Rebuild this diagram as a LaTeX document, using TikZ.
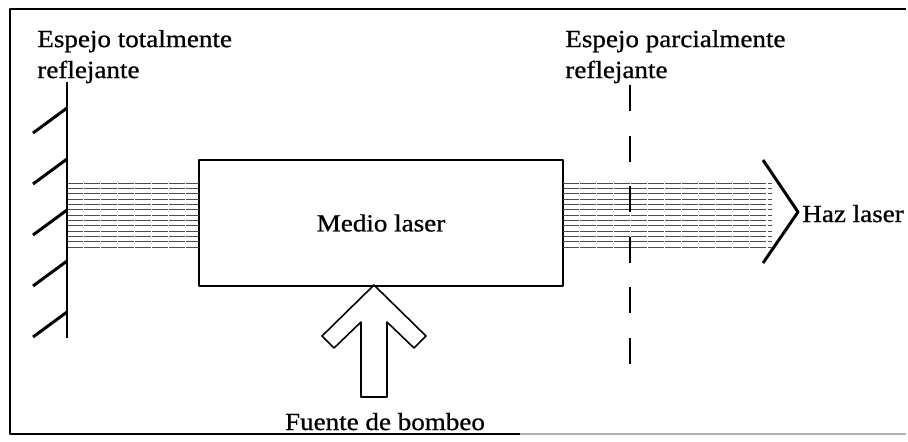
\documentclass[tikz,border=0pt]{standalone}
\usepackage{fontspec}
\setmainfont{Liberation Serif}[FakeStretch=1.1, FakeBold=0.8]
\begin{document}
\begin{tikzpicture}[x=0.02cm, y=-0.02cm, font=\fontsize{14}{17.6}\selectfont, line join=round,
		grueso/.style={line width=1.7pt},
		haz/.style={black!70, line width=0.5pt, dash pattern=on 9pt off 0.7pt},
		etiqueta/.style={anchor=base west, align=left, inner sep=0pt}]
	\useasboundingbox (0,0) rectangle (908,441);
	% Coordenadas del marco
	\coordinate (A) at (10,9);
	\coordinate (B) at (906,9);
	\coordinate (C) at (906,434);
	\coordinate (D) at (10,434);
	
	% Coordenadas del espejo total y del espejo parcial
	\coordinate (E1) at (67,82);
	\coordinate (E2) at (67,338);
	\coordinate (P1) at (630,85);
	\coordinate (P2) at (630,365);
	
	% Marco exterior (sin lado derecho)
	\draw[line width=0.9pt] (B) -- (A) -- (D) -- (520,434);
	\draw[line width=0.6pt, black!30] (520,434) -- (C);
	
	% Medio laser
	\node[draw, line width=1.4pt, minimum width=7.28cm, minimum height=2.52cm, inner sep=0pt] (medio) at (381,223) {Medio laser};
	
	% Haz entre los espejos (lineas horizontales)
	\foreach \k in {0,...,12} {
		\draw[haz] (67,183+5.33*\k) -- (199,183+5.33*\k);
		\draw[haz] (563,183+5.33*\k) -- (772,183+5.33*\k);
	}
	
	% Espejo totalmente reflejante
	\draw[grueso] (E1) -- (E2);
	\foreach \y in {108,159,210,261,312}
		\draw[grueso] (67,\y) -- (33,\y+25);
	
	% Espejo parcialmente reflejante
	\draw[line width=0.9pt, dash pattern=on 14.8pt off 14pt] (P1) -- (P2);
	
	% Punta del haz
	\coordinate (H) at (798,212);
	\draw[grueso] (763,160) -- (H) -- (763,263);
	
	% Flecha de la fuente de bombeo
	\coordinate (T) at (374,285);
	\draw[line width=0.9pt] (T) -- (426,336) -- (414,348) -- (387,322) -- (387,397)
		-- (361,397) -- (361,322) -- (334,348) -- (322,336) -- cycle;
	
	% Textos (la base es la de la ultima linea)
	\node[etiqueta] (total) at (37,78) {Espejo totalmente\\reflejante};
	\node[etiqueta] (parcial) at (565,78) {Espejo parcialmente\\reflejante};
	\node[etiqueta] (salida) at (802,222) {Haz laser};
	\node[anchor=base, inner sep=0pt] (bombeo) at (385,430) {Fuente de bombeo};
\end{tikzpicture}
\end{document}
